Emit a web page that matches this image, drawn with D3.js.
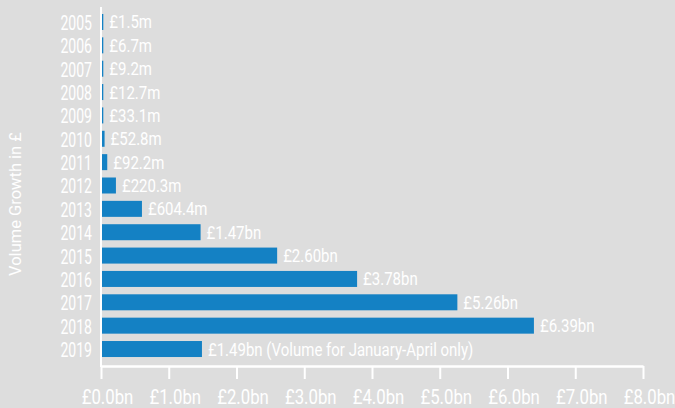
<!DOCTYPE html>
<html>
<head>
<meta charset="utf-8">
<script src="https://cdn.jsdelivr.net/npm/d3@7"></script>
<style>
  html, body { margin: 0; padding: 0; background: #dddddd; }
  svg { display: block; }
  text { font-family: "Roboto", "Liberation Sans", sans-serif; fill: #ffffff; }
</style>
</head>
<body>
<svg id="chart" width="675" height="408"></svg>
<script>
// Annual volume, in £bn
const years = ["2005", "2006", "2007", "2008", "2009", "2010", "2011", "2012",
               "2013", "2014", "2015", "2016", "2017", "2018", "2019"];
const volumes = [0.0015, 0.0067, 0.0092, 0.0127, 0.0331, 0.0528, 0.0922, 0.2203,
                 0.6044, 1.47, 2.60, 3.78, 5.26, 6.39, 1.49];
const valueLabels = ["£1.5m", "£6.7m", "£9.2m", "£12.7m", "£33.1m", "£52.8m", "£92.2m",
                     "£220.3m", "£604.4m", "£1.47bn", "£2.60bn", "£3.78bn", "£5.26bn",
                     "£6.39bn", "£1.49bn (Volume for January-April only)"];
const xTicks = [0, 1, 2, 3, 4, 5, 6, 7, 8];
const xTickLabels = ["£0.0bn", "£1.0bn", "£2.0bn", "£3.0bn", "£4.0bn", "£5.0bn", "£6.0bn", "£7.0bn", "£8.0bn"];
const yTitle = "Volume Growth in £";

const svg = d3.select("#chart");
const barColor = "#1481c4";

const x = d3.scaleLinear().domain([0, 8]).range([101, 643]);
const y = d3.scaleBand().domain(years).range([10.3, 360.7]).paddingInner(0.315).paddingOuter(0.1575);
const cy = d => y(d) + y.bandwidth() / 2;
const barW = i => Math.max(x(volumes[i]) - x(0), 2.3);

// bars
svg.append("g").selectAll("rect")
  .data(years)
  .join("rect")
  .attr("x", x(0))
  .attr("y", d => y(d))
  .attr("height", y.bandwidth())
  .attr("width", (d, i) => barW(i))
  .attr("fill", barColor);

// value labels (condensed by a horizontal squeeze)
svg.append("g").selectAll("text")
  .data(years)
  .join("text")
  .attr("transform", (d, i) => `translate(${x(0) + barW(i) + 6},${cy(d)}) scale(0.82,1)`)
  .attr("dy", "0.355em")
  .attr("font-size", 18.3)
  .text((d, i) => valueLabels[i]);

// category labels
svg.append("g").selectAll("text")
  .data(years)
  .join("text")
  .attr("transform", d => `translate(92,${cy(d) + 0.5}) scale(0.67,1)`)
  .attr("dy", "0.355em")
  .attr("text-anchor", "end")
  .attr("font-size", 21)
  .text(d => d);

// x axis
const xAxis = svg.append("g").attr("transform", "translate(0,366)")
  .call(d3.axisBottom(x).tickValues(xTicks).tickFormat((d, i) => xTickLabels[i])
        .tickSize(13).tickSizeOuter(0));
xAxis.select(".domain").attr("stroke", "#ffffff").attr("stroke-width", 2.4);
xAxis.selectAll(".tick line").attr("stroke", "#ffffff").attr("stroke-width", 2);
xAxis.selectAll(".tick text")
  .attr("fill", "#ffffff")
  .attr("font-size", 19.5)
  .attr("font-family", "Roboto, sans-serif")
  .attr("y", 38)
  .attr("dy", 0)
  .attr("transform", "translate(6,0) scale(0.86,1)");

// y axis line
svg.append("line")
  .attr("x1", x(0)).attr("x2", x(0))
  .attr("y1", 7).attr("y2", 367)
  .attr("stroke", "#ffffff").attr("stroke-width", 2);

// axis title
svg.append("text")
  .attr("transform", "translate(21,204) rotate(-90)")
  .attr("text-anchor", "middle")
  .attr("font-size", 16.5)
  .text(yTitle);
</script>
</body>
</html>
